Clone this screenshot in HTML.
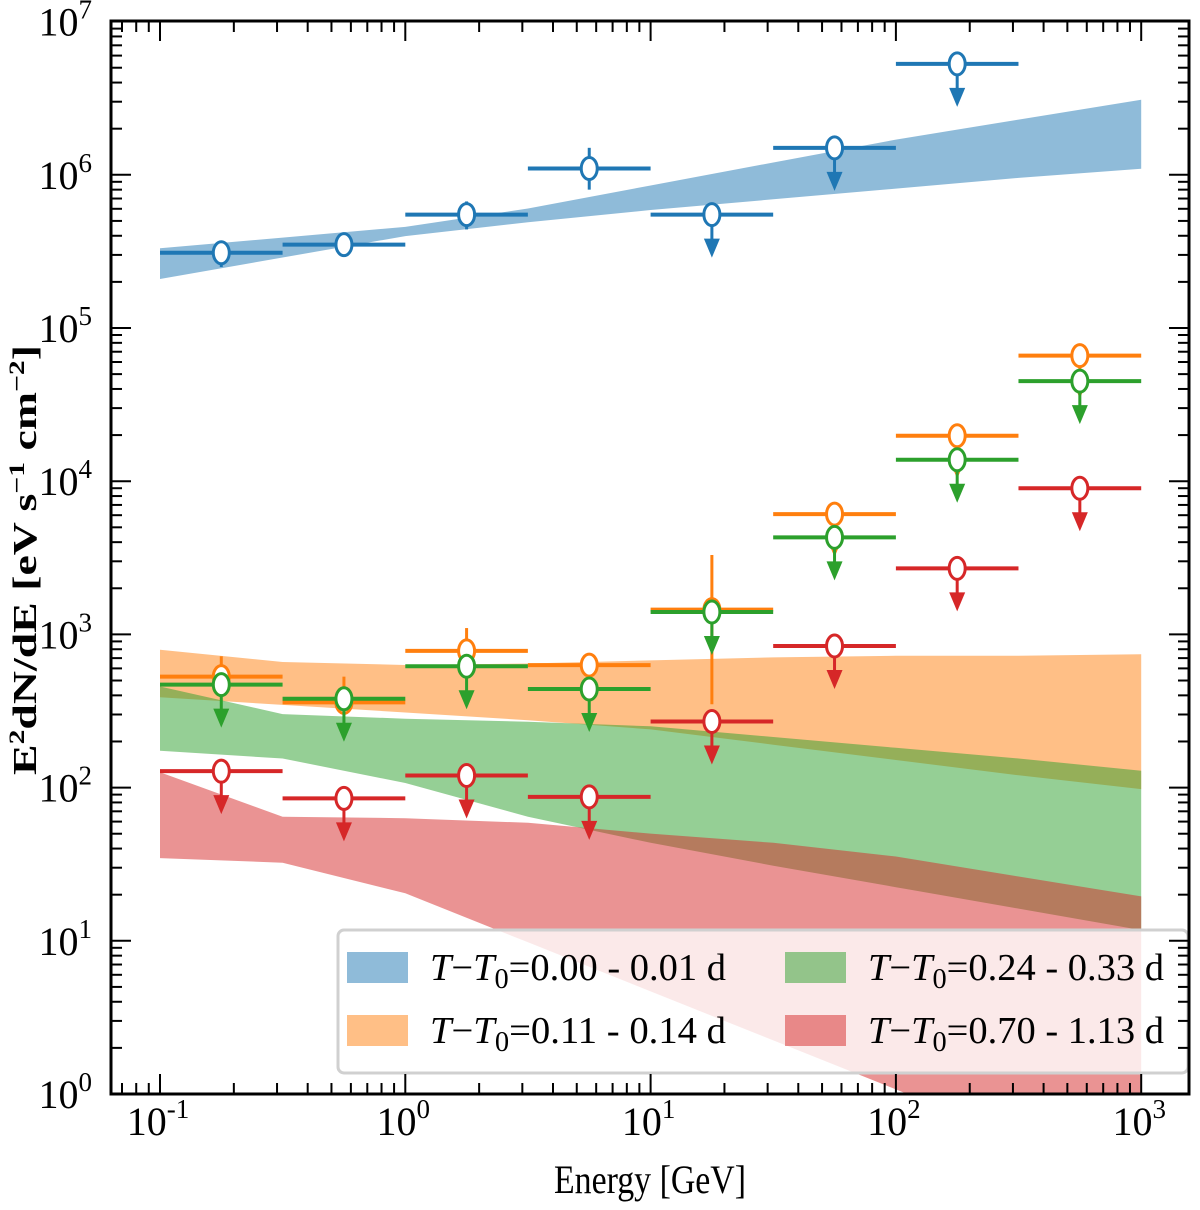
<!DOCTYPE html>
<html><head><meta charset="utf-8"><style>
html,body{margin:0;padding:0;background:#fff;}
svg text{font-family:"Liberation Serif",serif;}
</style></head><body>
<svg id="chart" width="1200" height="1205" viewBox="0 0 1200 1205" xmlns="http://www.w3.org/2000/svg">
<defs><clipPath id="plotclip"><rect x="111" y="21" width="1078" height="1073"/></clipPath></defs>
<g id="bands" clip-path="url(#plotclip)"></g>
<g id="points"></g>
<g id="legend"></g>
<g id="axes"></g>
</svg>
<script>
const bandLogE = [-1,-0.5,0,0.5,1,1.5,2,2.5,3];
const blueUp = [5.52,5.59,5.66,5.78,5.93,6.08,6.23,6.36,6.49];
const blueLow = [5.32,5.46,5.60,5.69,5.77,5.84,5.91,5.98,6.04];
const orangeUp = [2.90,2.82,2.80,2.81,2.83,2.85,2.86,2.86,2.87];
const orangeLow = [2.59,2.54,2.49,2.44,2.38,2.28,2.18,2.08,1.99];
const greenUp = [2.66,2.48,2.45,2.43,2.40,2.33,2.26,2.19,2.11];
const greenLow = [2.24,2.19,2.03,1.81,1.64,1.49,1.35,1.21,1.07];
const redUp = [2.10,1.81,1.80,1.77,1.70,1.64,1.55,1.42,1.29];
const redLow = [1.54,1.51,1.31,0.99,0.67,0.35,0.03,-0.29,-0.61];

const binEdges = [0.1,0.316,1,3.16,10,31.6,100,316,1000];
const blueVal = [3.1e5,3.5e5,5.5e5,1.1e6,5.5e5,1.5e6,5.3e6,null];
const blueHi = [3.7e5,3.9e5,6.7e5,1.5e6,null,null,null,null];
const blueLo = [2.5e5,3.1e5,4.4e5,8.0e5,null,null,null,null];
const orangeVal = [530,360,780,630,1450,6100,19800,66000];
const orangeHi = [720,530,1100,700,3300,null,null,null];
const orangeLo = [400,300,550,560,350,null,null,null];
const greenVal = [470,380,620,440,1400,4300,13800,45000];
const greenHi = [null,null,null,null,null,null,null,null];
const greenLo = [null,null,null,null,null,null,null,null];
const redVal = [128,85,120,87,270,840,2700,9000];
const redHi = [null,null,null,null,null,null,null,null];
const redLo = [null,null,null,null,null,null,null,null];

const xTicks = [-1,0,1,2,3];
const yTicks = [0,1,2,3,4,5,6,7];
const legendLabels = ["0.00 - 0.01 d","0.11 - 0.14 d","0.24 - 0.33 d","0.70 - 1.13 d"];

const NS="http://www.w3.org/2000/svg";
const X0=111,X1=1189,Y0=21,Y1=1094;
function xl(le){return 160+(le+1)*245.3;}
function x(v){return xl(Math.log10(v));}
function yl(lv){return 1094-lv*153.2;}
function y(v){return yl(Math.log10(v));}
function mk(tag,attrs,parent){const e=document.createElementNS(NS,tag);for(const k in attrs)e.setAttribute(k,attrs[k]);parent.appendChild(e);return e;}

const colors={blue:"#1f77b4",orange:"#ff7f0e",green:"#2ca02c",red:"#d62728"};
const bandsG=document.getElementById('bands');
function band(up,low,col,name){
  let pts=[];
  for(let i=0;i<bandLogE.length;i++)pts.push(xl(bandLogE[i]).toFixed(1)+","+yl(up[i]).toFixed(1));
  for(let i=bandLogE.length-1;i>=0;i--)pts.push(xl(bandLogE[i]).toFixed(1)+","+yl(low[i]).toFixed(1));
  const p=mk('polygon',{points:pts.join(" "),fill:col,'fill-opacity':0.5},bandsG);
  
  
}
band(blueUp,blueLow,colors.blue,'band-0.00-0.01d');
band(orangeUp,orangeLow,colors.orange,'band-0.11-0.14d');
band(greenUp,greenLow,colors.green,'band-0.24-0.33d');
band(redUp,redLow,colors.red,'band-0.70-1.13d');

const ptsG=document.getElementById('points');
function series(vals,hi,lo,col,name){
  const g=mk('g',{},ptsG);
  
  
  for(let i=0;i<vals.length;i++){
    if(vals[i]==null)continue;
    const cx=Math.sqrt(binEdges[i]*binEdges[i+1]);
    const px=x(cx),py=y(vals[i]);
    mk('line',{x1:x(binEdges[i]),x2:x(binEdges[i+1]),y1:py,y2:py,stroke:col,'stroke-width':4},g);
    if(hi[i]!=null){
      mk('line',{x1:px,x2:px,y1:y(hi[i]),y2:y(lo[i]),stroke:col,'stroke-width':3},g);
    } else {
      mk('line',{x1:px,x2:px,y1:py,y2:py+28,stroke:col,'stroke-width':3},g);
      mk('polygon',{points:(px-8)+","+(py+24)+" "+(px+8)+","+(py+24)+" "+px+","+(py+43),fill:col},g);
    }
    const c=mk('ellipse',{cx:px,cy:py,rx:8,ry:11,fill:'#fff',stroke:col,'stroke-width':3},g);
    
    
  }
}
series(blueVal,blueHi,blueLo,colors.blue,'series-0.00-0.01d');
series(orangeVal,orangeHi,orangeLo,colors.orange,'series-0.11-0.14d');
series(greenVal,greenHi,greenLo,colors.green,'series-0.24-0.33d');
series(redVal,redHi,redLo,colors.red,'series-0.70-1.13d');

// legend
const lg=document.getElementById('legend');
const box=mk('rect',{x:338,y:930,width:850,height:143,rx:6,fill:'#fff','fill-opacity':0.8,stroke:'#d0d0d0','stroke-width':3},lg);


const lcols=[colors.blue,colors.orange,colors.green,colors.red];
const lpos=[[347,952],[347,1015],[785,952],[785,1015]];
for(let i=0;i<4;i++){
  const [lx,ly]=lpos[i];
  const e=mk('g',{},lg);
  
  
  mk('rect',{x:lx,y:ly,width:61,height:31,fill:lcols[i],'fill-opacity':0.5},e);
  const t=mk('text',{x:lx+83,y:ly+28,'font-size':38,fill:'#000',textLength:296,lengthAdjust:'spacingAndGlyphs'},e);
  t.innerHTML='<tspan font-style="italic">T</tspan>\u2212<tspan font-style="italic">T</tspan><tspan font-size="28" dy="8">0</tspan><tspan dy="-8">=</tspan>'+legendLabels[i];
}

// axes
const ax=document.getElementById('axes');
mk('rect',{x:X0,y:Y0,width:X1-X0,height:Y1-Y0,fill:'none',stroke:'#000','stroke-width':3},ax);
for(let d=-2;d<=3;d++){
  for(let m=1;m<10;m++){
    const le=d+Math.log10(m);const px=xl(le);
    if(px<X0||px>X1)continue;
    const L=m==1?20:11;
    mk('line',{x1:px,x2:px,y1:Y1,y2:Y1-L,stroke:'#000','stroke-width':2},ax);
    mk('line',{x1:px,x2:px,y1:Y0,y2:Y0+L,stroke:'#000','stroke-width':2},ax);
  }
}
for(let d=0;d<7;d++){
  for(let m=1;m<10;m++){
    const py=yl(d+Math.log10(m));
    const L=m==1?20:11;
    mk('line',{x1:X0,x2:X0+L,y1:py,y2:py,stroke:'#000','stroke-width':2},ax);
    mk('line',{x1:X1,x2:X1-L,y1:py,y2:py,stroke:'#000','stroke-width':2},ax);
  }
}
xTicks.forEach(t=>{
  const tx=mk('text',{x:xl(t)-2,y:1135,'font-size':40,'text-anchor':'middle'},ax);
  
  
  tx.innerHTML='10<tspan font-size="27" dy="-17">'+t+'</tspan>';
});
yTicks.forEach(t=>{
  const tx=mk('text',{x:92,y:yl(t)+14,'font-size':40,'text-anchor':'end'},ax);
  
  
  tx.innerHTML='10<tspan font-size="27" dy="-17">'+t+'</tspan>';
});
const xt=mk('text',{x:650,y:1193,'font-size':40,'text-anchor':'middle',textLength:192,lengthAdjust:'spacingAndGlyphs'},ax);


xt.textContent='Energy [GeV]';
const yt=mk('text',{x:0,y:0,'font-size':34,'font-weight':'bold','text-anchor':'middle',transform:'translate(36,560) rotate(-90)',textLength:430,lengthAdjust:'spacingAndGlyphs'},ax);


yt.innerHTML='E<tspan font-size="22" dy="-12">2</tspan><tspan dy="12">dN/dE [eV s</tspan><tspan font-size="22" dy="-12">\u22121</tspan><tspan dy="12"> cm</tspan><tspan font-size="22" dy="-12">\u22122</tspan><tspan dy="12">]</tspan>';
</script>
</body></html>
